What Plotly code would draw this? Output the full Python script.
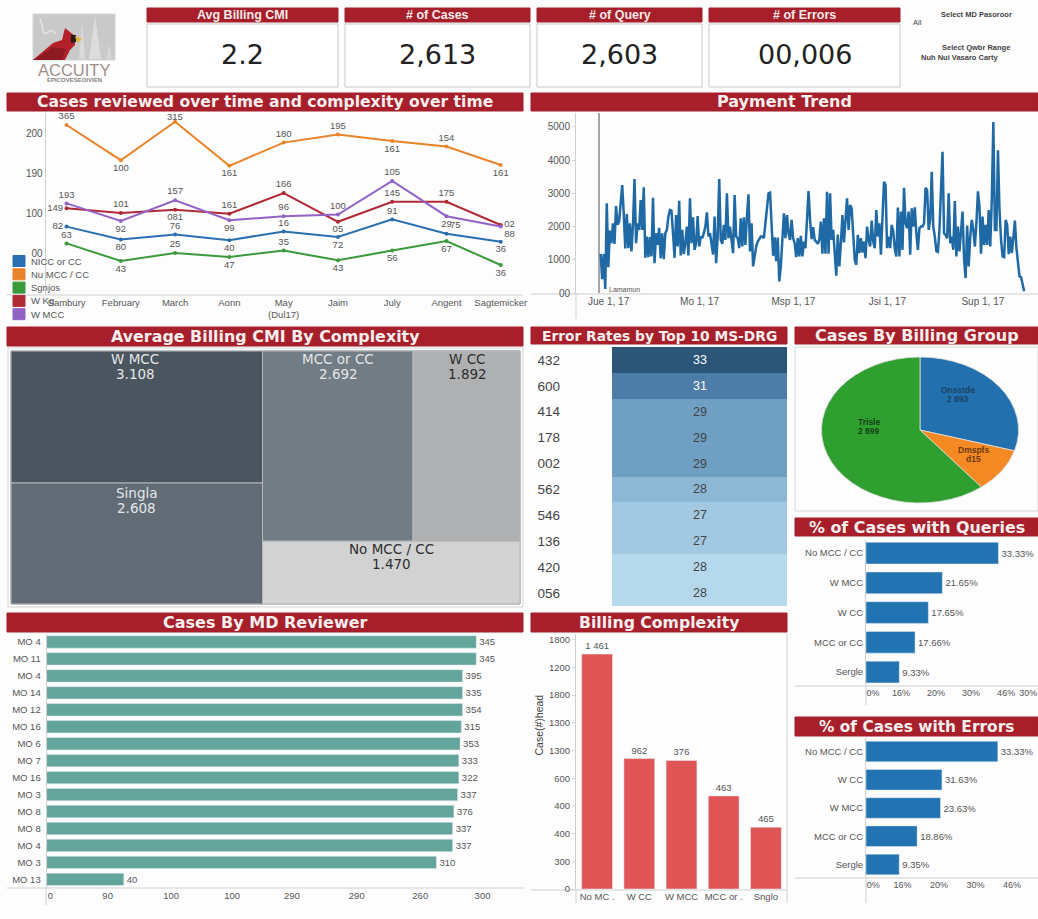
import pandas as pd
import plotly.graph_objects as go

W = 1038
H = 919

RED = '#a61f2b'
GREY = '#555555'
FONT = 'Liberation Sans'
TITLE_FONT = 'DejaVu Sans'

# kpi cards
kpi_titles = ['Avg Billing CMI', '# of Cases', '# of Query', '# of Errors']
kpi_values = ['2.2', '2,613', '2,603', '00,006']

# cases over time
months = ['Sambury', 'February', 'March', 'Aonn', 'May<br>(Dul17)', 'Jaim', 'July', 'Angent', 'Sagtemicker']
series_names = ['NICC or CC', 'Nu MCC / CC', 'Sgnjos', 'W Kg', 'W MCC']
series_colors = ['#2a6fb0', '#e8832a', '#3a9a3c', '#b02a35', '#9263c4']
mcc_or_cc = [83, 67, 73, 66, 77, 70, 92, 74, 64]
no_mcc = [210, 166, 214, 159, 188, 198, 190, 183, 160]
single = [62, 40, 50, 45, 53, 41, 53, 65, 35]
w_cc = [106, 100, 104, 99, 125, 89, 114, 114, 85]
w_mcc = [112, 90, 116, 91, 96, 98, 140, 96, 83]
mcc_or_cc_text = ['82', '80', '76', '40', '16', '72', '91', '75', '36']
no_mcc_text = ['365', '100', '315', '161', '180', '195', '161', '154', '161']
single_text = ['63', '43', '25', '47', '35', '43', '56', '67', '36']
w_cc_text = ['149', '101', '081', '161', '166', '05', '145', '175', '02']
w_mcc_text = ['193', '92', '157', '99', '96', '100', '105', '29', '88']

# payment trend, one value per day
trend_values = [
    1180, 420, 1170, 120, 2700, 780, 1880, 1500, 2100, 1480,
    2620, 2060, 2150, 2680, 3250, 2400, 1340, 2380, 1350, 2100,
    1250, 2050, 3430, 1500, 2100, 1900, 2800, 1900, 3180, 1060,
    1700, 1080, 1680, 1100, 2870, 900, 1800, 1450, 1960, 1050,
    1800, 1020, 1800, 1900, 2300, 2500, 2480, 1800, 1060, 2350,
    1400, 2780, 1130, 1900, 1170, 1500, 2000, 1130, 2850, 1500,
    2280, 1300, 1500, 2320, 1400, 1700, 1650, 1800, 2000, 2430,
    1700, 1800, 1400, 1160, 2300, 900, 1700, 3430, 1600, 1480,
    2050, 1600, 3000, 1650, 2000, 1600, 1200, 2950, 1700, 1650,
    1350, 2250, 1400, 2280, 1450, 2300, 2970, 1250, 2100, 800,
    1100, 1400, 1550, 1650, 1700, 1700, 1650, 2100, 2500, 3000,
    3020, 2000, 1120, 1680, 960, 1670, 350, 800, 1500, 2400,
    1650, 2350, 1800, 1600, 2200, 1650, 1500, 1080, 1650, 1100,
    1720, 1100, 1550, 1350, 2200, 3070, 2200, 1620, 1980, 1600,
    1550, 1480, 1600, 2150, 1180, 2250, 1180, 3050, 1180, 3000,
    1600, 1900, 1200, 520, 1760, 800, 1500, 2350, 1520, 2200,
    2850, 1900, 2650, 2550, 1800, 1000, 850, 1750, 1200, 1650,
    1220, 1550, 1050, 2000, 1600, 1400, 2180, 1550, 1350, 2500,
    1700, 2100, 1150, 2200, 3350, 3250, 1350, 1700, 1350, 2050,
    1850, 1330, 1100, 2570, 1100, 2450, 1300, 3170, 2100, 1950,
    2450, 1150, 2550, 2000, 2580, 1800, 1300, 1950, 2000, 2000,
    2100, 3170, 3100, 1900, 2200, 3650, 2000, 1700, 1260, 1240,
    1900, 3100, 4250, 1800, 1750, 1650, 3000, 1500, 1700, 1300,
    2770, 1100, 2000, 1250, 1750, 2450, 1000, 450, 2030, 800,
    1700, 2200, 1900, 1400, 2100, 3060, 2600, 1180, 2300, 1450,
    2050, 1450, 2500, 1400, 2800, 5150, 1900, 1900, 4300, 2500,
    1600, 1100, 1080, 2200, 2050, 1170, 1700, 1200, 1650, 2180,
    1350, 1000, 500, 480, 300, 50,
]
trend_ticks = ['2017-01-01', '2017-03-01', '2017-05-01', '2017-07-01', '2017-09-01']
trend_ticktext = ['Jue 1, 17', 'Mo 1, 17', 'Msp 1, 17', 'Jsi 1, 17', 'Sup 1, 17']

# treemap, sizes taken from the tile areas
tree_names = ['W MCC', 'Singla', 'MCC or CC', 'W CC', 'No MCC / CC']
tree_cmi = ['3.108', '2.608', '2.692', '1.892', '1.470']
tree_sizes = [33198, 30431, 28595, 20330, 16222]
tree_colors = ['#4b555f', '#626c76', '#727c85', '#aeb0b2', '#d2d2d2']
tree_text_colors = ['#e4e6e8', '#e4e6e8', '#e4e6e8', '#2e2e2e', '#2e2e2e']
tree_text_x = [135, 136, 338, 467, 391]
tree_text_y = [359, 493, 359, 359, 549]

# error rates table
drg_codes = ['432', '600', '414', '178', '002', '562', '546', '136', '420', '056']
drg_rates = ['33', '31', '29', '29', '29', '28', '27', '27', '28', '28']
drg_shade = [6, 5, 4, 4, 4, 3, 2, 2, 1, 1]
drg_scale = ['#b6d8ec', '#a2c8e2', '#8cb8d6', '#6f9fc2', '#4d7ca8', '#2c5678']

# billing group pie
pie_labels = ['Onsstde', 'Dmspfs', 'Trisle']
pie_values = [296, 97, 607]
pie_colors = ['#2270ad', '#f58a24', '#2fa02f']
pie_counts = ['2 893', 'd15', '2 899']
pie_text_x = [958, 973, 869]
pie_text_y = [390, 450, 422]
pie_text_colors = ['#1c4468', '#6b3a10', '#153f15']

# queries and errors
query_names = ['No MCC / CC', 'W MCC', 'W CC', 'MCC or CC', 'Sergle']
query_values = [37.8, 21.8, 17.8, 14.0, 9.5]
query_text = ['33.33%', '21.65%', '17.65%', '17.66%', '9.33%']
query_ticks = [2, 10, 20, 30, 40, 46.3]
query_ticktext = ['0%', '16%', '20%', '30%', '46%', '30%']
error_names = ['No MCC / CC', 'W CC', 'W MCC', 'MCC or CC', 'Sergle']
error_values = [36.1, 20.8, 20.4, 14.0, 9.1]
error_text = ['33.33%', '31.63%', '23.63%', '18.86%', '9.35%']
error_ticks = [2, 10, 20, 30, 40]
error_ticktext = ['0%', '16%', '20%', '30%', '46%']

# md reviewers
md_names = ['MO 4', 'MO 11', 'MO 4', 'MO 14', 'MO 12', 'MO 16', 'MO 6', 'MO 7',
            'MO 16', 'MO 3', 'MO 8', 'MO 8', 'MO 4', 'MO 3', 'MO 13']
md_values = [345, 345, 334, 334, 334, 333, 332, 331, 331, 330, 327, 326, 326, 313, 62]
md_text = ['345', '345', '395', '335', '354', '315', '353', '333', '322', '337',
           '376', '337', '337', '310', '40']
md_ticks = [3, 49, 100, 149, 197, 249, 300, 350]
md_ticktext = ['0', '90', '100', '100', '290', '290', '260', '300']

# billing complexity
complexity_names = ['No MC .', 'W CC', 'W MCC', 'MCC or .', 'Snglo']
complexity_values = [1696, 942, 928, 672, 446]
complexity_text = ['1 461', '962', '376', '463', '465']
complexity_ticks = [1800, 1600, 1400, 1200, 1000, 800, 600, 400, 200, 0]
complexity_ticktext = ['1800', '1200', '1800', '1300', '1300', '600', '400', '400', '300', '0']


def xdom(x0, x1):
    return [x0 / W, x1 / W]


def ydom(y0, y1):
    return [1 - y1 / H, 1 - y0 / H]


def note(x, y, text, size=10, color=GREY, family=FONT, anchor='center'):
    return dict(x=x / W, y=1 - y / H, xref='paper', yref='paper', text=text, showarrow=False,
                xanchor=anchor, yanchor='middle', font=dict(size=size, color=color, family=family))


def box(x0, y0, x1, y1, fill='rgba(0,0,0,0)', line='#d9d9d9', width=1):
    return dict(type='rect', xref='paper', yref='paper', x0=x0 / W, x1=x1 / W, y0=1 - y0 / H, y1=1 - y1 / H,
                fillcolor=fill, line=dict(color=line, width=width), layer='below')


def rule(x0, y0, x1, y1, color='#cfcfcf', width=1):
    return dict(type='line', xref='paper', yref='paper', x0=x0 / W, x1=x1 / W, y0=1 - y0 / H, y1=1 - y1 / H,
                line=dict(color=color, width=width), layer='below')


def poly(points, fill):
    d = 'M' + ' L'.join(f'{x / W:.5f},{1 - y / H:.5f}' for x, y in points) + ' Z'
    return dict(type='path', xref='paper', yref='paper', path=d, fillcolor=fill, line=dict(width=0))


def axis(domain, **kw):
    base = dict(domain=domain, showgrid=False, zeroline=False, showline=True, linecolor='#cfcfcf',
                tickfont=dict(size=10, color=GREY, family=FONT), ticks='', automargin=False,
                ticklabeloverflow='allow')
    base.update(kw)
    return base


tick_marks = dict(ticks='outside', ticklen=3, tickcolor='#d5d5d5')

shapes = []
notes = []

# logo
shapes.append(box(33, 14, 115, 60, fill='#c9c9c9', line='#d5d5d5'))
shapes.append(poly([(89, 59), (95, 16), (101, 59)], '#dcdcdc'))
shapes.append(poly([(79, 59), (82, 22), (85, 59)], '#d9d9d9'))
shapes.append(poly([(106, 59), (109, 44), (112, 59)], '#d6d6d6'))
shapes.append(rule(40, 18, 44, 34, color='#e2e2e2', width=1.5))
shapes.append(rule(44, 34, 52, 30, color='#e2e2e2', width=1.5))
shapes.append(rule(52, 30, 56, 34, color='#e2e2e2', width=1.5))
shapes.append(poly([(33, 60), (53, 43), (62, 40), (65, 28), (75, 36), (75, 45), (70, 50), (65, 60)], '#b3222b'))
shapes.append(poly([(33, 60), (53, 47), (66, 49), (62, 60)], '#8e1b24'))
shapes.append(poly([(71, 35), (76, 35), (76, 42), (71, 43)], '#2a1a1a'))
shapes.append(poly([(75, 36), (82, 39), (77, 43)], '#e2b52e'))
notes.append(note(74, 69.5, 'ACCUITY', size=16.5, color='#a08f8c'))
notes.append(note(74, 80, '<b>EPICOVESEOIVIEN</b>', size=6, color='#8a8080'))

# kpi cards
card_left = [147, 345, 537, 709]
card_right = [338, 530, 702, 900]
for i in range(4):
    shapes.append(box(card_left[i], 8, card_right[i], 22, fill=RED, line=RED))
    shapes.append(box(card_left[i], 24, card_right[i], 87, fill='#ffffff', line='#c9c9c9'))
    notes.append(note((card_left[i] + card_right[i]) / 2, 15, f'<b>{kpi_titles[i]}</b>', size=12.5, color='#f5e9e9'))
    notes.append(note((card_left[i] + card_right[i]) / 2, 55, kpi_values[i], size=27, color='#222222', family=TITLE_FONT))

notes.append(note(911, 22, 'All', size=7.5, color='#444444', anchor='left'))
notes.append(note(976, 15, '<b>Select MD Pasoroor</b>', size=7.5, color='#444444'))
notes.append(note(976, 47, '<b>Select Qwbr Range</b>', size=7.5, color='#444444'))
notes.append(note(960, 57, '<b>Nuh Nui Vasaro Carty</b>', size=7.5, color='#444444'))

# section headers
headers = [
    (7, 93, 523, 111, 'Cases reviewed over time and complexity over time', 15.6),
    (531, 93, 1038, 111, 'Payment Trend', 16),
    (7, 327, 523, 346, 'Average Billing CMI By Complexity', 15.9),
    (531, 327, 787, 344, 'Error Rates by Top 10 MS-DRG', 13.8),
    (795, 327, 1038, 344, 'Cases By Billing Group', 16),
    (795, 518, 1038, 536, '% of Cases with Queries', 15.9),
    (7, 613, 523, 632, 'Cases By MD Reviewer', 16),
    (531, 613, 787, 632, 'Billing Complexity', 15.7),
    (795, 717, 1038, 736, '% of Cases with Errors', 15.4),
]
for x0, y0, x1, y1, title, size in headers:
    shapes.append(box(x0, y0, x1, y1, fill=RED, line=RED))
    notes.append(note((x0 + x1) / 2, (y0 + y1) / 2, f'<b>{title}</b>', size=size, color='#f7eeee', family=TITLE_FONT))

# panel frames and the axis lines that run past the plots
shapes.append(box(8, 348, 523, 607, line='#d5d5d5'))
shapes.append(box(795, 347, 1038, 511, line='#d5d5d5'))
shapes.append(rule(7, 295, 523, 295))
shapes.append(rule(531, 294, 1038, 294))
shapes.append(rule(576, 294, 576, 319))
shapes.append(rule(599, 113, 599, 293, color='#888888', width=1.5))
shapes.append(rule(7, 888, 523, 888))
shapes.append(rule(46, 888, 46, 905))
shapes.append(rule(531, 890, 787, 890))
shapes.append(rule(576, 890, 576, 903))
shapes.append(rule(787, 634, 787, 903))
shapes.append(rule(795, 686, 1038, 686))
shapes.append(rule(866, 686, 866, 705))
shapes.append(rule(795, 878, 1038, 878))
shapes.append(rule(866, 878, 866, 903))
notes.append(note(607, 289, 'Lamamun', size=7, color='#555555', anchor='left'))

fig = go.Figure()

# line chart
series = [
    (mcc_or_cc, mcc_or_cc_text, ['middle left', 'bottom center', 'top center', 'bottom center', 'top center',
                                 'bottom center', 'top center', 'top right', 'bottom center']),
    (no_mcc, no_mcc_text, ['top center', 'bottom center', 'top center', 'bottom center', 'top center',
                           'top center', 'bottom center', 'top center', 'bottom center']),
    (single, single_text, ['top center', 'bottom center', 'top center', 'bottom center', 'top center',
                           'bottom center', 'bottom center', 'bottom center', 'bottom center']),
    (w_cc, w_cc_text, ['middle left', 'top center', 'bottom center', 'top center', 'top center',
                       'bottom center', 'top center', 'top center', 'middle right']),
    (w_mcc, w_mcc_text, ['top center', 'bottom center', 'top center', 'bottom center', 'top center',
                         'top center', 'top center', 'bottom center', 'bottom right']),
]
for i, (values, labels, spots) in enumerate(series):
    shown = list(labels)
    if values is no_mcc:
        # the March peak label sits closer to its point, right under the header
        shown[2] = ''
        notes.append(dict(x=months[2], y=no_mcc[2], xref='x', yref='y', text=no_mcc_text[2], showarrow=False,
                          yshift=5, font=dict(size=9.5, color=GREY, family=FONT)))
    fig.add_trace(go.Scatter(x=months, y=values, name=series_names[i], mode='lines+markers+text',
                             text=shown, textposition=spots,
                             textfont=dict(size=9.5, color=GREY, family=FONT),
                             line=dict(color=series_colors[i], width=2), marker=dict(size=4),
                             showlegend=False, cliponaxis=False, xaxis='x', yaxis='y'))
    y_key = 261 + i * 13.3
    shapes.append(box(13, y_key - 5.5, 25, y_key + 5.5, fill=series_colors[i], line=series_colors[i]))
    notes.append(note(29, y_key, series_names[i], size=9.5, color='#555555', anchor='left'))

# payment trend
trend_dates = pd.date_range('2017-01-01', periods=len(trend_values))
fig.add_trace(go.Scatter(x=trend_dates, y=trend_values, mode='lines', showlegend=False,
                         line=dict(color='#1f6aa5', width=2.5), xaxis='x2', yaxis='y2'))

# treemap, the blank nodes only group the tiles, the captions sit in notes for the tight line spacing
tree_labels = ['', '', '', ''] + tree_names
tree_ids = ['root', 'left', 'right', 'top', 'a', 'b', 'c', 'd', 'e']
tree_parents = ['', 'root', 'root', 'right', 'left', 'left', 'top', 'top', 'right']
tree_vals = [0, 0, 0, 0] + tree_sizes
fig.add_trace(go.Treemap(ids=tree_ids, labels=tree_labels, parents=tree_parents, values=tree_vals,
                         textinfo='none', branchvalues='remainder', sort=False,
                         tiling=dict(packing='slice-dice', pad=0),
                         pathbar=dict(visible=False),
                         marker=dict(colors=['#ffffff'] * 4 + tree_colors,
                                     pad=dict(t=0, l=0, r=0, b=0),
                                     line=dict(color='#b5b8ba', width=1)),
                         domain=dict(x=xdom(11, 520), y=ydom(351, 604))))
for i, name in enumerate(tree_names):
    notes.append(note(tree_text_x[i], tree_text_y[i], name, size=13.5, color=tree_text_colors[i], family=TITLE_FONT))
    notes.append(note(tree_text_x[i], tree_text_y[i] + 15, tree_cmi[i], size=13.5, color=tree_text_colors[i], family=TITLE_FONT))

# error rates
steps = len(drg_scale) - 1
fig.add_trace(go.Heatmap(z=[[v] for v in drg_shade], y=list(range(len(drg_codes))), x=['rate'],
                         text=[[v] for v in drg_rates], texttemplate='%{text}',
                         textfont=dict(size=12.5, family=FONT),
                         zmin=1, zmax=6, showscale=False,
                         colorscale=[[i / steps, c] for i, c in enumerate(drg_scale)],
                         xaxis='x3', yaxis='y3'))

# pie, stretched into an ellipse after drawing
fig.add_trace(go.Pie(labels=pie_labels, values=pie_values, sort=False, direction='clockwise', rotation=0,
                     textinfo='none', showlegend=False,
                     marker=dict(colors=pie_colors, line=dict(color='#dddddd', width=0.7)),
                     domain=dict(x=xdom(847, 993), y=ydom(357, 503))))
for i, label in enumerate(pie_labels):
    notes.append(note(pie_text_x[i], pie_text_y[i], f'<b>{label}</b>', size=8.5, color=pie_text_colors[i]))
    notes.append(note(pie_text_x[i], pie_text_y[i] + 9, f'<b>{pie_counts[i]}</b>', size=8.5, color=pie_text_colors[i]))

# queries
fig.add_trace(go.Bar(x=query_values, y=list(range(5)), orientation='h', text=query_text,
                     textposition='outside', textfont=dict(size=9.5, color=GREY, family=FONT),
                     marker=dict(color='#2273b1'), cliponaxis=False, showlegend=False,
                     xaxis='x4', yaxis='y4'))

# errors
fig.add_trace(go.Bar(x=error_values, y=list(range(5)), orientation='h', text=error_text,
                     textposition='outside', textfont=dict(size=9.5, color=GREY, family=FONT),
                     marker=dict(color='#2273b1'), cliponaxis=False, showlegend=False,
                     xaxis='x5', yaxis='y5'))

# md reviewers
fig.add_trace(go.Bar(x=md_values, y=list(range(len(md_names))), orientation='h', text=md_text,
                     textposition='outside', textfont=dict(size=9.5, color=GREY, family=FONT),
                     marker=dict(color='#63a59b'), cliponaxis=False, showlegend=False,
                     xaxis='x6', yaxis='y6'))

# billing complexity
fig.add_trace(go.Bar(x=complexity_names, y=complexity_values, text=complexity_text,
                     textposition='outside', textfont=dict(size=9.5, color=GREY, family=FONT),
                     marker=dict(color='#e05656'), cliponaxis=False, showlegend=False,
                     xaxis='x7', yaxis='y7'))
notes.append(dict(x=538 / W, y=1 - 757 / H, xref='paper', yref='paper', text='Case(#)head', showarrow=False,
                  textangle=-90, font=dict(size=10.5, color='#444444', family=FONT)))

fig.update_layout(
    width=W,
    height=H,
    margin=dict(l=0, r=0, t=0, b=0),
    paper_bgcolor='#fdfdfd',
    plot_bgcolor='rgba(0,0,0,0)',
    font=dict(family=FONT, color=GREY),
    shapes=shapes,
    annotations=notes,
    bargap=0.27,
    xaxis=axis(xdom(45.6, 523), anchor='y', type='category', range=[-0.386, 8.41], showline=False,
               tickfont=dict(size=9.5, color=GREY, family=FONT)),
    yaxis=axis(ydom(113, 295), anchor='x', range=[-2.5, 225], tickvals=[200, 150, 100, 50],
               ticktext=['200', '190', '100', '00']),
    xaxis2=axis(xdom(576, 1038), anchor='y2', type='date', range=['2016-12-16', '2017-10-12'], showline=False,
                tickvals=trend_ticks, ticktext=trend_ticktext, ticklabelshift=8,
                tickfont=dict(size=10, color=GREY, family=FONT)),
    yaxis2=axis(ydom(113, 294), anchor='x2', range=[-30, 5420], tickvals=[5000, 4000, 3000, 2000, 1000, 0],
                ticktext=['5000', '4000', '3000', '2000', '1000', '00'], **tick_marks),
    xaxis3=axis(xdom(612, 787), anchor='y3', showticklabels=False, showline=False),
    yaxis3=axis(ydom(347, 606), anchor='x3', autorange='reversed', showline=False, tickvals=list(range(10)),
                ticktext=drg_codes, ticklabelstandoff=51, tickfont=dict(size=13.5, color='#444444', family=FONT)),
    xaxis4=axis(xdom(866, 1038), anchor='y4', range=[0, 49.1], showline=False, tickvals=query_ticks,
                ticktext=query_ticktext, tickfont=dict(size=9, color=GREY, family=FONT)),
    yaxis4=axis(ydom(540, 686), anchor='x4', range=[4.47, -0.44], tickvals=list(range(5)), ticktext=query_names,
                tickfont=dict(size=9.5, color=GREY, family=FONT)),
    xaxis5=axis(xdom(866, 1038), anchor='y5', range=[0, 47.1], showline=False, tickvals=error_ticks,
                ticktext=error_ticktext, tickfont=dict(size=9, color=GREY, family=FONT)),
    yaxis5=axis(ydom(738, 878), anchor='x5', range=[4.48, -0.48], tickvals=list(range(5)), ticktext=error_names,
                tickfont=dict(size=9.5, color=GREY, family=FONT)),
    xaxis6=axis(xdom(46.6, 523), anchor='y6', range=[0, 382.5], showline=False, tickvals=md_ticks,
                ticktext=md_ticktext, tickfont=dict(size=9.5, color=GREY, family=FONT)),
    yaxis6=axis(ydom(634, 888), anchor='x6', range=[14.51, -0.47], tickvals=list(range(len(md_names))),
                ticktext=md_names, ticklabelstandoff=3, tickfont=dict(size=9.5, color=GREY, family=FONT)),
    xaxis7=axis(xdom(576, 787), anchor='y7', showline=False, tickfont=dict(size=9.5, color=GREY, family=FONT)),
    yaxis7=axis(ydom(634, 889), anchor='x7', range=[0, 1841], tickvals=complexity_ticks, ticktext=complexity_ticktext,
                tickfont=dict(size=9.5, color=GREY, family=FONT), **tick_marks),
)

# page margin off, and pull the round pie out to the ellipse of the reference
stretch = """
document.body.style.margin = '0';
var cx = 920, cy = 430, sx = 1.35;
var layer = document.querySelector('.pielayer');
if (layer) layer.setAttribute('transform', 'translate(' + cx + ',' + cy + ') scale(' + sx + ',1) translate(' + (-cx) + ',' + (-cy) + ')');
"""
fig.write_html("out.html", post_script=stretch, config=dict(displayModeBar=False))
